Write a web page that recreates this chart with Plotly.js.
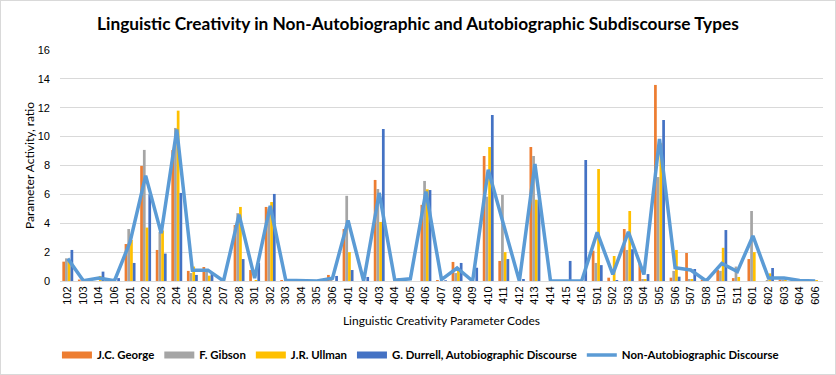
<!DOCTYPE html>
<html>
<head>
<meta charset="utf-8">
<script src="https://cdn.plot.ly/plotly-3.0.1.min.js"></script>
<style>
html,body{margin:0;padding:0;background:#fff;overflow:hidden;}
#frame{width:834px;height:373px;border:1px solid #d9d9d9;overflow:hidden;position:relative;}
#chart{width:834px;height:385px;}
</style>
</head>
<body>
<div id="frame"><div id="chart"></div></div>
<script>
const categories = ['102','103','104','106','201','202','203','204','205','206','207','208','301','302','303','304','305','306','401','402','403','404','405','406','407','408','409','410','411','412','413','414','415','416','501','502','503','504','505','506','507','508','510','511','601','602','603','604','606'];

const george = [1.34,0.1,0,0,2.56,7.97,2.15,9.07,0.7,0.97,0,3.88,0.76,5.13,0.07,0,0,0.42,3.6,0,7.0,0,0,5.27,0.07,1.32,0,8.66,1.39,0,9.28,0,0,0,2.1,0.23,3.6,1.22,13.58,0.23,1.94,0.1,0.76,0.2,1.52,0,0.1,0,0];

const gibson = [1.57,0,0,0,3.6,9.08,3.4,10.6,0.55,0.76,0,4.7,0,5.0,0,0,0,0.1,5.9,0,6.37,0,0,6.93,0,0.55,0,5.84,5.96,0,8.66,0,0,0,1.25,0,2.15,0.14,7.2,0.7,0.14,0,0.7,1.0,4.85,0.07,0.1,0,0];

const ullman = [1.4,0,0.35,0,2.84,3.7,3.5,11.8,1.0,0.37,0,5.13,0.07,5.47,0,0,0,0,2.0,0,4.09,0,0,6.35,0,0.88,0,9.28,2.0,0,5.63,0,0,0,7.76,1.73,4.85,0.14,9.54,2.15,0.14,0,2.3,0.28,2.0,0.53,0.1,0,0.07];

const durrell = [2.15,0,0.65,0.2,1.25,6.0,1.9,6.1,0.42,0.6,0,1.52,1.25,6.03,0,0,0,0.35,0.76,0.28,10.53,0.18,0,6.3,0.05,1.25,0.92,11.5,1.52,0.14,5.6,0,1.39,8.38,1.1,0.07,2.2,0.48,11.15,0.3,0.83,0,3.53,0,0,0.9,0,0,0];

const nonAuto = [1.55,0.02,0.2,0.02,2.7,7.3,3.3,10.5,0.75,0.75,0,4.6,0.2,5.2,0.05,0.05,0,0.2,4.2,0,6.1,0.05,0.15,6.2,0.1,0.9,0,7.7,3.8,0,8.1,0,0,0,3.37,0.46,3.4,0.45,9.84,0.92,0.76,0,1.22,0.65,3.12,0.2,0.2,0.03,0];

const seriesNames = ['J.C. George','F. Gibson','J.R. Ullman','G. Durrell, Autobiographic Discourse','Non-Autobiographic Discourse'];
const colors = ['#ED7D31','#A5A5A5','#FFC000','#4472C4','#5B9BD5'];

const barData = [george, gibson, ullman, durrell];
const traces = barData.map((vals,i)=>({
  type:'bar', x:categories, y:vals, name:seriesNames[i],
  marker:{color:colors[i]}, showlegend:false, legendgroup:'g'+i
}));
// legend keys for the bar series (drawn as short wide bars, like the original)
barData.forEach((vals,i)=>{
  traces.push({type:'scatter', mode:'lines', x:[categories[0]], y:[null], name:seriesNames[i],
    line:{color:colors[i], width:7}, legendgroup:'g'+i, showlegend:true, hoverinfo:'skip'});
});
traces.push({
  type:'scatter', mode:'lines', x:categories, y:nonAuto, name:seriesNames[4],
  line:{color:colors[4], width:3.5}
});

const H = 385;
const font = "Lato, 'Open Sans', Arial, sans-serif";
const layout = {
  width:834, height:H,
  margin:{l:59, r:12, t:49, b:H-280},
  paper_bgcolor:'#fff', plot_bgcolor:'#fff',
  title:{text:'<b>Linguistic Creativity in Non-Autobiographic and Autobiographic Subdiscourse Types</b>',
    font:{family:font, size:17.3, color:'#000'}, x:0.5, xanchor:'center', y:1-23/H, yanchor:'middle'},
  barmode:'group', bargap:0.3, bargroupgap:0,
  xaxis:{type:'category', tickangle:-90, tickfont:{family:'Arial, sans-serif', size:11, color:'#000'},
    showgrid:false, showline:true, linecolor:'#d9d9d9', ticks:'', automargin:false,
    title:{text:'Linguistic Creativity Parameter Codes', font:{family:font, size:12, color:'#000'}, standoff:12}},
  yaxis:{range:[0,16], dtick:2, tickfont:{family:'Arial, sans-serif', size:11, color:'#000'},
    gridcolor:'#d9d9d9', zeroline:false, showline:false, ticks:'', automargin:false, ticklabelstandoff:9,
    title:{text:'Parameter Activity, ratio', font:{family:font, size:12, color:'#000'}, standoff:0}},
  legend:{orientation:'h', x:-0.004, xanchor:'left', y:(280-354)/231, yanchor:'middle',
    font:{family:font, size:11.4, color:'#000', weight:'bold'}, traceorder:'normal', itemwidth:30},
  showlegend:true
};
Plotly.newPlot('chart', traces, layout, {displayModeBar:false, staticPlot:true});
</script>
</body>
</html>
